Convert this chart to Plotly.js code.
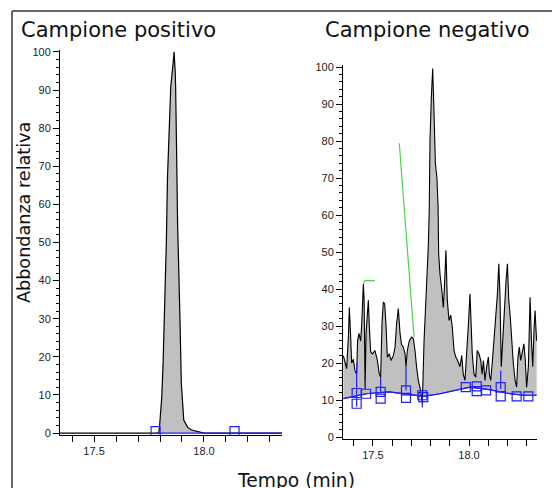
<!DOCTYPE html>
<html><head><meta charset="utf-8">
<script src="https://cdn.plot.ly/plotly-3.0.1.min.js"></script>
<style>html,body{margin:0;padding:0;background:#fff}#c{width:552px;height:488px}</style>
</head><body><div id="c"></div>
<script>
// ---- Campione positivo ----
const posTime = [17.345, 17.795, 17.799, 17.808, 17.814, 17.823, 17.829, 17.834, 17.841, 17.849, 17.858, 17.864, 17.869, 17.871, 17.876, 17.880, 17.890, 17.897, 17.908, 17.926, 17.944, 17.980, 18.000, 18.355];
const posVal  = [0, 0, 2.6, 9.5, 18.4, 35.8, 50.6, 67, 79.5, 91, 96, 100, 95, 91, 72, 55, 32, 13, 3.4, 1.5, 0.8, 0.3, 0, 0];
const posBaseTime = [17.780, 18.355];
const posBaseVal  = [0, 0];
const posMarkTime = [17.780, 18.139];
const posMarkVal  = [0.5, 0.5];

// ---- Campione negativo ----
const negTime = [17.346, 17.354, 17.363, 17.372, 17.377, 17.384, 17.389, 17.398, 17.406, 17.415, 17.420, 17.427, 17.436, 17.441, 17.450, 17.454, 17.459, 17.464, 17.470, 17.476, 17.481, 17.488, 17.498, 17.510, 17.523, 17.533, 17.540, 17.547, 17.554, 17.561, 17.568, 17.575, 17.585, 17.594, 17.606, 17.615, 17.623, 17.632, 17.641, 17.649, 17.658, 17.667, 17.672, 17.679, 17.689, 17.701, 17.710, 17.719, 17.727, 17.736, 17.748, 17.757, 17.766, 17.774, 17.780, 17.788, 17.793, 17.797, 17.804, 17.811, 17.818, 17.825, 17.833, 17.839, 17.842, 17.849, 17.858, 17.866, 17.872, 17.880, 17.887, 17.896, 17.905, 17.913, 17.922, 17.931, 17.941, 17.953, 17.962, 17.970, 17.979, 17.988, 17.997, 18.005, 18.010, 18.017, 18.026, 18.035, 18.043, 18.052, 18.061, 18.068, 18.075, 18.083, 18.092, 18.101, 18.106, 18.113, 18.122, 18.130, 18.139, 18.148, 18.155, 18.161, 18.168, 18.175, 18.184, 18.193, 18.200, 18.207, 18.214, 18.222, 18.231, 18.240, 18.248, 18.255, 18.262, 18.269, 18.278, 18.286, 18.293, 18.300, 18.309, 18.318, 18.325, 18.332, 18.339, 18.344, 18.349, 18.352];
const negVal  = [22, 20, 18.5, 27, 35, 27, 20, 21, 18, 17, 26, 28, 26, 30, 41.4, 37, 13, 28, 33, 37, 30, 23, 22.5, 23.4, 20.7, 17, 16.2, 30.6, 36.5, 36, 30, 21.6, 22.5, 20.7, 22, 24.3, 30.6, 34.7, 28, 25, 24.3, 22.5, 19, 23.4, 26, 27, 26.6, 23.4, 19, 15.3, 12.6, 9, 26, 35, 42, 51.4, 61.3, 80.3, 92, 99.6, 87.5, 74, 70, 62.3, 49.5, 44, 40, 35, 40.5, 50.5, 37, 31.5, 33, 29.7, 23.4, 21.6, 20.7, 19, 22, 17, 15.3, 21.6, 30.6, 38.7, 32.4, 22.5, 17, 16.2, 23.4, 22.5, 20.7, 17, 20.7, 15.3, 19, 21.6, 17, 15.3, 20.7, 26, 33, 38.7, 46.8, 38.7, 19, 26, 33, 42.3, 46.8, 37, 33, 26, 19.8, 15.3, 13.5, 21.6, 24.3, 20.7, 23.4, 25.2, 20.7, 13.5, 19, 37.8, 26, 19, 29.7, 34.2, 28.8, 26];
const negBaseTime = [17.346, 17.464, 17.585, 17.672, 17.762, 17.849, 18.005, 18.106, 18.193, 18.278, 18.352];
const negBaseVal  = [10.4, 11.7, 12.2, 11.7, 11.0, 11.7, 13.5, 12.8, 11.9, 11.3, 11.3];
const negMarkTime = [17.415, 17.415, 17.464, 17.540, 17.540, 17.672, 17.672, 17.757, 17.762, 17.983, 18.040, 18.040, 18.089, 18.165, 18.165, 18.248, 18.309];
const negMarkVal  = [11.9, 9.0, 11.7, 12.2, 10.4, 12.6, 10.6, 11.3, 10.8, 13.5, 13.7, 12.4, 12.6, 13.5, 11.0, 11.0, 11.0];
const dropTime = [17.415, 17.540, 17.672, 17.757, 18.165];
const dropLow  = [8.2, 12.2, 12.6, 8.0, 13.0];
const dropHigh = [20.0, 16.2, 19.0, 11.0, 18.0];
const greenATime = [17.450, 17.458, 17.510];
const greenAVal  = [41.4, 42.3, 42.3];
const greenBTime = [17.637, 17.714];
const greenBVal  = [79.4, 27.0];

const xTickVals = [17.4, 17.5, 17.6, 17.7, 17.8, 17.9, 18.0, 18.1, 18.2, 18.3];
const xTickText = ['', '17.5', '', '', '', '', '18.0', '', '', ''];
const yTickVals = [0, 10, 20, 30, 40, 50, 60, 70, 80, 90, 100];

const titleLeft = 'Campione positivo';
const titleRight = 'Campione negativo';
const yTitle = 'Abbondanza relativa';
const xTitle = 'Tempo (min)';

const FILL = '#c0c0c0';
const BLUE = '#1f1fff';
const GREEN = '#44d444';

const dx = [], dy = [];
dropTime.forEach((t, i) => { dx.push(t, t, null); dy.push(dropLow[i], dropHigh[i], null); });

const traces = [
  {x: posTime, y: posVal, xaxis: 'x', yaxis: 'y', mode: 'lines', fill: 'tozeroy', fillcolor: FILL,
   line: {color: '#000', width: 1.2}, hoverinfo: 'skip'},
  {x: posBaseTime, y: posBaseVal, xaxis: 'x', yaxis: 'y', mode: 'lines', line: {color: BLUE, width: 1.2}},
  {x: posMarkTime, y: posMarkVal, xaxis: 'x', yaxis: 'y', mode: 'markers',
   marker: {symbol: 'square-open', size: 9, color: BLUE, line: {width: 1.2}}},
  {x: negBaseTime, y: negBaseVal, xaxis: 'x2', yaxis: 'y2', mode: 'lines', line: {color: BLUE, width: 1.2}},
  {x: negTime, y: negVal, xaxis: 'x2', yaxis: 'y2', mode: 'lines', fill: 'tonexty', fillcolor: FILL,
   line: {color: '#000', width: 1.1}},
  {x: negBaseTime, y: negBaseVal, xaxis: 'x2', yaxis: 'y2', mode: 'lines', line: {color: BLUE, width: 1.2}},
  {x: dx, y: dy, xaxis: 'x2', yaxis: 'y2', mode: 'lines', line: {color: BLUE, width: 1.2}},
  {x: negMarkTime, y: negMarkVal, xaxis: 'x2', yaxis: 'y2', mode: 'markers',
   marker: {symbol: 'square-open', size: 9, color: BLUE, line: {width: 1.2}}},
  {x: greenATime, y: greenAVal, xaxis: 'x2', yaxis: 'y2', mode: 'lines', line: {color: GREEN, width: 1.2}},
  {x: greenBTime, y: greenBVal, xaxis: 'x2', yaxis: 'y2', mode: 'lines', line: {color: GREEN, width: 1.2}}
];

const tickFont = {family: 'Liberation Sans, Arial, sans-serif', size: 11, color: '#222'};
const xCommon = {tickvals: xTickVals, ticktext: xTickText, ticks: 'outside', ticklen: 6, tickwidth: 1,
  tickcolor: '#000', showline: true, linecolor: '#000', linewidth: 1, showgrid: false, zeroline: false,
  tickfont: tickFont, fixedrange: true};
const yCommon = {tickvals: yTickVals, ticks: 'outside', ticklen: 6, tickwidth: 1, tickcolor: '#000',
  showline: true, linecolor: '#000', linewidth: 1, showgrid: false, zeroline: false, tickfont: tickFont,
  range: [-0.5, 100.5], minor: {dtick: 2, tick0: 0, ticks: 'outside', ticklen: 3, tickcolor: '#000', showgrid: false},
  fixedrange: true};

const titleFont = {family: 'DejaVu Sans, sans-serif', size: 21, color: '#111'};
const yTitleFont = {family: 'DejaVu Sans, sans-serif', size: 17.6, color: '#111'};
const xTitleFont = {family: 'DejaVu Sans, sans-serif', size: 18.7, color: '#111'};

const layout = {
  width: 552, height: 488, margin: {l: 0, r: 0, t: 0, b: 0},
  paper_bgcolor: '#fff', plot_bgcolor: 'rgba(0,0,0,0)', showlegend: false,
  xaxis: Object.assign({}, xCommon, {domain: [60/552, 282/552], range: [17.345, 18.355], anchor: 'y'}),
  yaxis: Object.assign({}, yCommon, {domain: [(488-435)/488, (488-50)/488], anchor: 'x'}),
  xaxis2: Object.assign({}, xCommon, {domain: [343/552, 537/552], range: [17.344, 18.354], anchor: 'y2'}),
  yaxis2: Object.assign({}, yCommon, {domain: [(488-438.9)/488, (488-65.2)/488], anchor: 'x2'}),
  annotations: [
    {text: titleLeft, xref: 'paper', yref: 'paper', x: 19/552, y: 1-30/488, xanchor: 'left', yanchor: 'middle', showarrow: false, font: titleFont},
    {text: titleRight, xref: 'paper', yref: 'paper', x: 323/552, y: 1-30/488, xanchor: 'left', yanchor: 'middle', showarrow: false, font: titleFont},
    {text: yTitle, xref: 'paper', yref: 'paper', x: 24/552, y: 1-213/488, xanchor: 'center', yanchor: 'middle', textangle: -90, showarrow: false, font: yTitleFont},
    {text: xTitle, xref: 'paper', yref: 'paper', x: 296/552, y: 1-480/488, xanchor: 'center', yanchor: 'middle', showarrow: false, font: xTitleFont}
  ],
  shapes: [
    {type: 'line', xref: 'paper', yref: 'paper', x0: 12/552, x1: 1, y0: 1-11/488, y1: 1-11/488, line: {color: '#333', width: 1.5}},
    {type: 'line', xref: 'paper', yref: 'paper', x0: 12/552, x1: 12/552, y0: 0, y1: 1-11/488, line: {color: '#666', width: 2}}
  ]
};

Plotly.newPlot('c', traces, layout, {displayModeBar: false, staticPlot: true});
</script></body></html>
